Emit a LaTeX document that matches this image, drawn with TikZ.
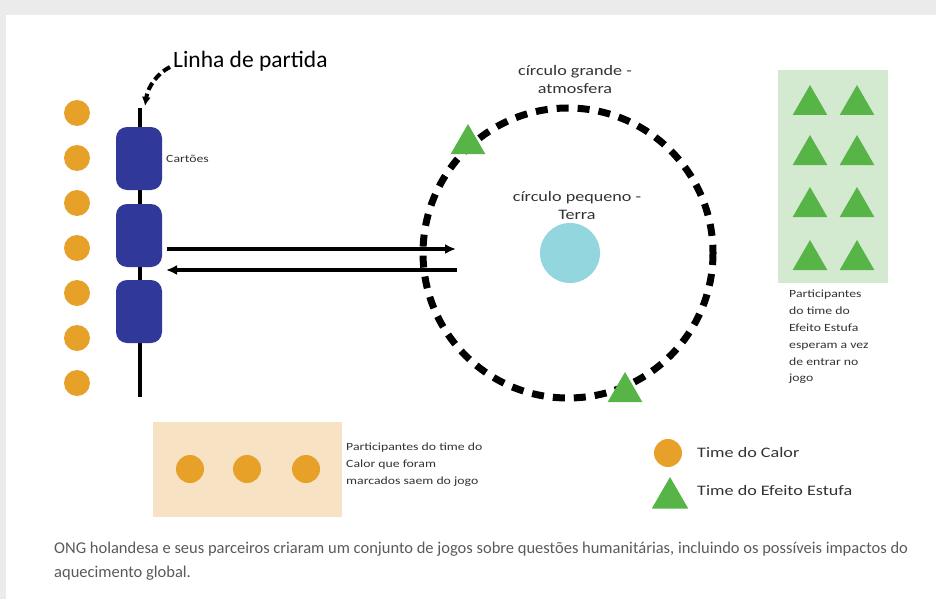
\documentclass[tikz,border=0pt]{standalone}
\usepackage{fontspec}
\setmainfont{Carlito}
\newfontfamily\lab[FakeStretch=1.25]{Carlito}
\usetikzlibrary{arrows.meta,shapes.geometric}
\definecolor{heat}{HTML}{E8A128}
\definecolor{cardblue}{HTML}{30389A}
\definecolor{gh}{HTML}{57B447}
\definecolor{panelg}{HTML}{D4EAD0}
\definecolor{beige}{HTML}{F7E2C4}
\definecolor{earth}{HTML}{94D6DE}
\definecolor{frame}{HTML}{EBEBEB}
\definecolor{captxt}{HTML}{5A5A5A}
\definecolor{labtxt}{HTML}{333333}
\begin{document}
\begin{tikzpicture}[x=1pt,y=-1pt,
  dot/.style={circle,fill=heat,minimum size=26pt,inner sep=0pt},
  card/.style={rectangle,rounded corners=11pt,fill=cardblue,minimum width=46pt,minimum height=63pt,inner sep=0pt},
  tri/.style={regular polygon,regular polygon sides=3,fill=gh,inner sep=0pt,minimum size=40pt},
  small/.style={font=\lab\fontsize{11}{16.8}\selectfont,text=labtxt,inner sep=0pt},
  mid/.style={font=\lab\fontsize{14.5}{18}\selectfont,text=labtxt,inner sep=0pt},
  link/.style={line width=3.5pt,-{Latex[length=11pt,width=10pt]}}
]
\useasboundingbox (0,0) rectangle (936,599);
\fill[frame] (0,0) rectangle (936,599);
\fill[white] (6,15) rectangle (936,599);

% start line
\coordinate (ltop) at (140,108);
\coordinate (lbot) at (140,397);
\draw[line width=4pt] (ltop) -- (lbot);

% heat team column
\foreach \i/\y in {1/113,2/158,3/203,4/248,5/293,6/338,7/383}
  \node[dot] (h\i) at (77,\y) {};

% cards
\node[card] (c1) at (139,158.5) {};
\node[card] (c2) at (139,235.5) {};
\node[card] (c3) at (139,311.5) {};
\node[small,anchor=west] (cart) at (166,159) {Cartões};

% start label
\node[font=\fontsize{23.5}{26}\selectfont,anchor=west,inner sep=0pt] (start) at (173,61) {Linha de partida};
\coordinate (sa) at (170,67);
\coordinate (sb) at (145,106);
\draw[line width=4pt,dash pattern=on 8pt off 4pt,-{Latex[length=9pt,width=9pt]}] (sa) .. controls (158,73) and (148,86) .. (sb);

% big circle and earth
\coordinate (ctr) at (568,253);
\draw[line width=7pt,dash pattern=on 12pt off 9pt] (ctr) circle[radius=145];
\node[circle,fill=earth,minimum size=60pt,inner sep=0pt] (earthc) at (570,253) {};
\node[mid,align=center] (biglab) at (575,80) {círculo grande -\\atmosfera};
\node[mid,align=center] (smalllab) at (577,206) {círculo pequeno -\\Terra};
\node[tri] (t1) at (468,144) {};
\node[tri] (t2) at (625,392) {};

% arrows
\coordinate (inS) at (167,249);
\coordinate (inE) at (456,249);
\coordinate (outS) at (457,270);
\coordinate (outE) at (166,270);
\draw[link] (inS) -- (inE);
\draw[link] (outS) -- (outE);

% waiting panel
\node[rectangle,fill=panelg,minimum width=110pt,minimum height=213pt,inner sep=0pt] (panel) at (833,176.5) {};
\foreach \r/\y in {1/100,2/150,3/202,4/255}{
  \node[tri] (p\r a) at (810,\y+5) {};
  \node[tri] (p\r b) at (857,\y+5) {};
}
\node[small,align=left,anchor=north west] (paneltxt) at (789,290) {Participantes\\do time do\\Efeito Estufa\\esperam a vez\\de entrar no\\jogo};

% out box
\node[rectangle,fill=beige,minimum width=189pt,minimum height=95pt,inner sep=0pt] (outbox) at (247.5,469.5) {};
\node[dot,minimum size=28pt] (o1) at (190,469) {};
\node[dot,minimum size=28pt] (o2) at (247,469) {};
\node[dot,minimum size=28pt] (o3) at (306,469) {};
\node[small,align=left,anchor=north west] (outtxt) at (346,443) {Participantes do time do\\Calor que foram\\marcados saem do jogo};

% legend
\node[dot,minimum size=28pt] (lg1) at (668,453) {};
\node[tri,minimum size=42pt] (lg2) at (670,498) {};
\node[mid,anchor=west] (lgt1) at (697,453) {Time do Calor};
\node[mid,anchor=west] (lgt2) at (697,491) {Time do Efeito Estufa};

% caption
\node[font=\fontsize{16.5}{24}\selectfont,text=captxt,align=left,anchor=north west,inner sep=0pt] (cap) at (54,542)
  {ONG holandesa e seus parceiros criaram um conjunto de jogos sobre questões humanitárias, incluindo os possíveis impactos do\\aquecimento global.};
\end{tikzpicture}
\end{document}
